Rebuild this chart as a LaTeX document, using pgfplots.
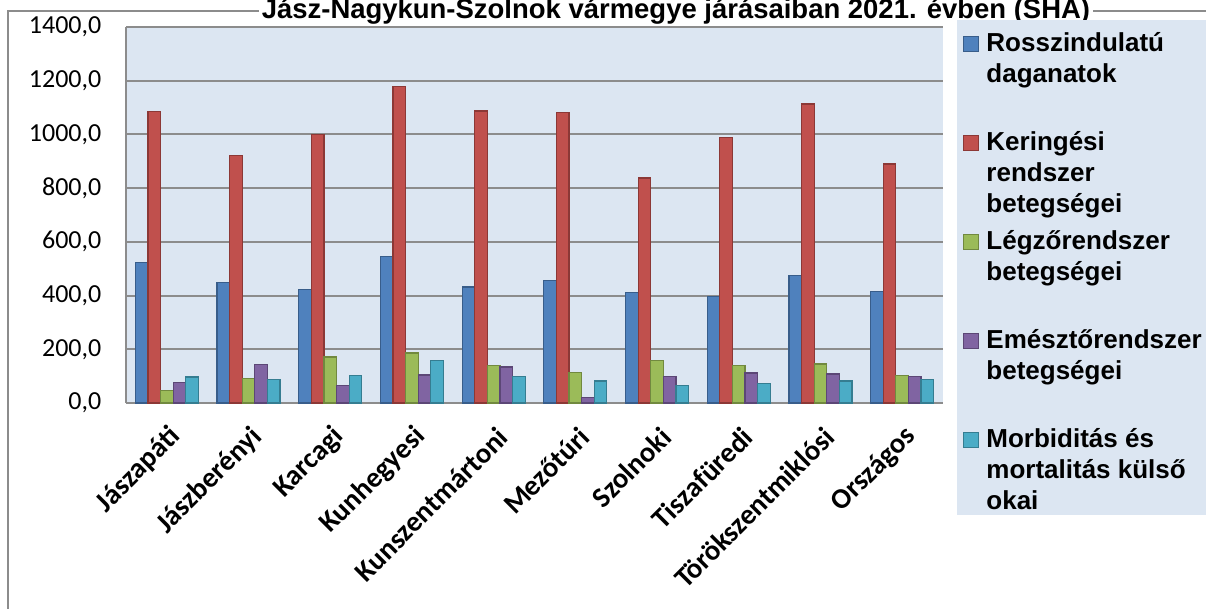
\documentclass[border=0pt]{standalone}
\usepackage{fontspec}
\setmainfont{Carlito}
\newfontfamily\lsans{Liberation Sans}
\usepackage{pgfplots}
\pgfplotsset{compat=1.18}

\definecolor{cBlue}{HTML}{4F81BD}\definecolor{cBlueD}{HTML}{385D8A}
\definecolor{cRed}{HTML}{C0504D}\definecolor{cRedD}{HTML}{8C3836}
\definecolor{cGreen}{HTML}{9BBB59}\definecolor{cGreenD}{HTML}{71893F}
\definecolor{cPurple}{HTML}{8064A2}\definecolor{cPurpleD}{HTML}{5C4776}
\definecolor{cCyan}{HTML}{4BACC6}\definecolor{cCyanD}{HTML}{357D91}
\definecolor{plotbg}{HTML}{DCE6F2}
\definecolor{gridc}{HTML}{8C8C8C}

% legend text: fixed-height box so that all entries are evenly spaced
\newcommand\legtxt[1]{\parbox[b][72.75pt][t]{190pt}{\raggedright\lsans\bfseries\fontsize{19.5}{23.25}\selectfont\rule{0pt}{23.25pt}#1}}
\newcommand\legA{\legtxt{Rosszindulatú\par daganatok}}
\newcommand\legB{\legtxt{Keringési\par rendszer\par betegségei}}
\newcommand\legC{\legtxt{Légzőrendszer\par betegségei}}
\newcommand\legD{\legtxt{Emésztőrendszer\par betegségei}}
\newcommand\legE{\legtxt{Morbiditás és\par mortalitás külső\par okai}}

\begin{document}
\begin{tikzpicture}
\useasboundingbox (0pt,0pt) rectangle (904.5pt,-456pt);
\clip (0pt,0pt) rectangle (904.5pt,-456pt);
\draw[gridc, line width=1.1pt] (6pt,-470pt) -- (6pt,-8.25pt) -- (920pt,-8.25pt);
\node[anchor=base, fill=white, inner sep=2pt, font=\lsans\bfseries\fontsize{20.6}{24}\selectfont]
  at (507pt,-13.5pt) {Jász-Nagykun-Szolnok vármegye járásaiban 2021. évben (SHA)};
\begin{axis}[
  at={(94.5pt,-20.25pt)}, anchor=north west,
  scale only axis, width=612.75pt, height=282pt,
  ybar, bar width=0.154,
  xmin=-0.5, xmax=9.5, ymin=0, ymax=1400,
  xtick={0,...,9},
  xticklabels={Jászapáti,Jászberényi,Karcagi,Kunhegyesi,Kunszentmártoni,Mezőtúri,Szolnoki,Tiszafüredi,Törökszentmiklósi,Országos},
  ytick={0,200,...,1400},
  axis x line*=bottom, axis y line*=left,
  x axis line style={-}, y axis line style={-},
  axis line style={gridc, line width=1.5pt},
  major tick length=0pt,
  ymajorgrids, major grid style={gridc, line width=1.5pt},
  axis background/.style={fill=plotbg},
  /pgf/number format/assume math mode=true,
  yticklabel style={font=\fontsize{19.5}{22}\selectfont, xshift=-15pt,
    /pgf/number format/.cd, fixed, fixed zerofill, precision=1, use comma, 1000 sep={}},
  xticklabel style={font=\bfseries\fontsize{21.5}{24}\selectfont, inner sep=0pt,
    xshift=7pt, yshift=-22pt, rotate=45, anchor=east},
  legend image code/.code={
    \path (0pt,-26pt) (0pt,26pt);
    \draw[#1, line width=0.9pt] (4.5pt,13.9pt) rectangle (15.75pt,25.15pt);},
  legend style={at={(1.0171,1.0186)}, anchor=north west, fill=plotbg, draw=none,
    inner sep=0pt, row sep=0pt, column sep=5.25pt,
    nodes={inner sep=0pt}, cells={anchor=west}},
]
\addplot[fill=cBlue, draw=cBlueD, line width=0.9pt, bar shift=-0.308] coordinates {
  (0,523) (1,450) (2,423) (3,547) (4,432) (5,456) (6,412) (7,397) (8,474) (9,415)};
\addplot[fill=cRed, draw=cRedD, line width=0.9pt, bar shift=-0.154] coordinates {
  (0,1086) (1,921) (2,1000) (3,1178) (4,1087) (5,1083) (6,838) (7,990) (8,1113) (9,890)};
\addplot[fill=cGreen, draw=cGreenD, line width=0.9pt, bar shift=0] coordinates {
  (0,47) (1,91) (2,171) (3,186) (4,141) (5,113) (6,158) (7,141) (8,145) (9,102)};
\addplot[fill=cPurple, draw=cPurpleD, line width=0.9pt, bar shift=0.154] coordinates {
  (0,76) (1,143) (2,66) (3,104) (4,134) (5,21) (6,98) (7,112) (8,108) (9,98)};
\addplot[fill=cCyan, draw=cCyanD, line width=0.9pt, bar shift=0.308] coordinates {
  (0,97) (1,89) (2,103) (3,159) (4,99) (5,82) (6,65) (7,72) (8,82) (9,88)};
\legend{\legA,\legB,\legC,\legD,\legE}
\end{axis}
\end{tikzpicture}
\end{document}
